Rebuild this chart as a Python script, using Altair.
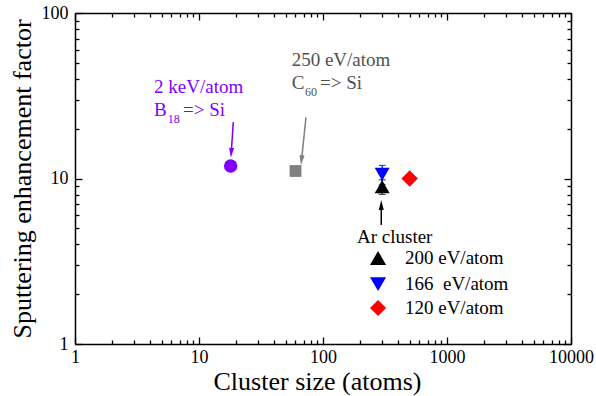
import altair as alt
import pandas as pd

FONT = "Liberation Serif"

# ---------------------------------------------------------------- data
# B18 and C60 cluster impacts on Si
b18_size = [18]
b18_factor = [11.9]
c60_size = [60]
c60_factor = [11.1]

# Ar gas-cluster impacts at three energies per atom
ar_series = ["200 eV/atom", "166\u00a0 eV/atom", "120 eV/atom"]
ar_size = [300, 300, 500]
ar_factor = [8.92, 10.6, 10.0]
ar_err = [0.9, 1.4, 0.5]
ar_shapes = ["triangle-up", "triangle-down", "diamond"]
ar_colors = ["#000000", "#0000ff", "#ff0000"]
ar_marker_area = [225, 225, 270]

# key for the Ar series (positions in data units)
key_title = "Ar cluster"
key_title_x, key_title_y = 188, 4.43
key_symbol_x = 278
key_label_x = 458
key_y = [3.31, 2.30, 1.65]
key_marker_area = [260, 260, 260]

# axis labels and tick positions
x_labels = [1, 10, 100, 1000, 10000]
y_labels = [1, 10, 100]
x_ticks = [1, 2, 3, 4, 5, 6, 7, 8, 9,
           10, 20, 30, 40, 50, 60, 70, 80, 90,
           100, 200, 300, 400, 500, 600, 700, 800, 900,
           1000, 2000, 3000, 4000, 5000, 6000, 7000, 8000, 9000, 10000]
y_ticks = [1, 2, 3, 4, 5, 6, 7, 8, 9,
           10, 20, 30, 40, 50, 60, 70, 80, 90, 100]

# annotation texts (positions in data units)
note_text = ["2 keV/atom", "B", "18", "=> Si",
             "250 eV/atom", "C", "60", "=> Si"]
note_x = [4.34, 4.34, 5.59, 7.43, 55.9, 55.9, 71.6, 94.6]
note_y = [35.9, 25.9, 22.9, 25.9, 52.0, 37.9, 33.3, 37.9]
note_size = [19, 19, 12, 19, 19, 19, 12, 19]
note_color = ["#8000ff"] * 4 + ["#505050"] * 4

# arrows: tail -> head centre
arrow_x = [18.9, 72.9, 295]
arrow_y = [21.9, 23.4, 5.24]
arrow_x2 = [18.2, 67.1, 295]
arrow_y2 = [14.3, 12.9, 6.92]
arrow_angle = [4, 6, 0]
arrow_color = ["#8000ff", "#808080", "#000000"]
arrow_head = ["M-0.5,-1L0.5,-1L0,1Z", "M-0.5,-1L0.5,-1L0,1Z", "M-0.5,1L0.5,1L0,-1Z"]

W, H = 496, 331

xs = alt.Scale(type="log", domain=[1, 10000], nice=False)
ys = alt.Scale(type="log", domain=[1, 100], nice=False)


def X(field, axis=None):
    return alt.X(field, type="quantitative", scale=xs, axis=axis)


def Y(field, axis=None):
    return alt.Y(field, type="quantitative", scale=ys, axis=axis)


# ---------------------------------------------------------------- axes
major_test = "indexof([1, 10, 100, 1000, 10000], datum.value) >= 0"


def tick_axis(orient, values, offset):
    # the domain line of each offset axis forms one side of the frame
    return alt.Axis(
        orient=orient, values=values, offset=offset, labels=False,
        domain=True, domainColor="black", domainWidth=1.5,
        grid=False, title="", tickColor="black", tickWidth=1.3,
        tickSize={"condition": {"test": major_test, "value": 7}, "value": 4},
    )


axis_df = pd.DataFrame({"x": [1, 10000], "y": [1, 100]})

label_axes = alt.Chart(axis_df).mark_point(opacity=0).encode(
    x=X("x", alt.Axis(
        orient="bottom", values=x_labels, format="d", ticks=False,
        domain=False, grid=False, labelFlush=False, labelOverlap=False,
        labelFont=FONT, labelFontSize=18, labelColor="black", labelPadding=4,
        title="Cluster size (atoms)", titleFont=FONT, titleFontSize=26,
        titleFontWeight="normal", titleColor="black",
        titleX=242, titleY=37, titleBaseline="middle")),
    y=Y("y", alt.Axis(
        orient="left", values=y_labels, format="d", ticks=False,
        domain=False, grid=False, labelFlush=False, labelOverlap=False,
        labelFont=FONT, labelFontSize=18, labelColor="black", labelPadding=7,
        title="Sputtering enhancement factor", titleFont=FONT,
        titleFontSize=26, titleFontWeight="normal", titleColor="black",
        titleX=-53, titleY=H / 2, titleBaseline="middle")),
)

# inward ticks along the bottom and left edges
ticks_low = alt.Chart(axis_df).mark_point(opacity=0).encode(
    x=X("x", tick_axis("top", x_ticks, -H)),
    y=Y("y", tick_axis("right", y_ticks, -W)),
)
# inward ticks along the top and right edges
ticks_high = alt.Chart(axis_df).mark_point(opacity=0).encode(
    x=X("x", tick_axis("bottom", x_ticks, -H)),
    y=Y("y", tick_axis("left", y_ticks, -W)),
)

# ---------------------------------------------------------------- marks
ar_df = pd.DataFrame({
    "series": ar_series, "size": ar_size, "factor": ar_factor,
    "lo": [f - e for f, e in zip(ar_factor, ar_err)],
    "hi": [f + e for f, e in zip(ar_factor, ar_err)],
    "hex": ar_colors, "shape": ar_shapes, "area": ar_marker_area,
})

err_line = alt.Chart(ar_df).mark_rule(strokeWidth=1.2).encode(
    x=X("size"), y=Y("lo"), y2="hi",
    color=alt.Color("hex:N", scale=None),
)
err_cap_lo = alt.Chart(ar_df).mark_tick(orient="horizontal", size=7, thickness=1.2).encode(
    x=X("size"), y=Y("lo"), color=alt.Color("hex:N", scale=None),
)
err_cap_hi = alt.Chart(ar_df).mark_tick(orient="horizontal", size=7, thickness=1.2).encode(
    x=X("size"), y=Y("hi"), color=alt.Color("hex:N", scale=None),
)

b18 = alt.Chart(pd.DataFrame({"size": b18_size, "factor": b18_factor})).mark_point(
    filled=True, shape="circle", size=180, color="#8000ff", opacity=1
).encode(x=X("size"), y=Y("factor"))

c60 = alt.Chart(pd.DataFrame({"size": c60_size, "factor": c60_factor})).mark_point(
    filled=True, shape="square", size=140, color="#808080", opacity=1
).encode(x=X("size"), y=Y("factor"))

ar = alt.Chart(ar_df).mark_point(filled=True, opacity=1).encode(
    x=X("size"), y=Y("factor"),
    color=alt.Color("hex:N", scale=None),
    shape=alt.Shape("shape:N", scale=None),
    size=alt.Size("area:Q", scale=None),
)

# key: title, symbols and labels
key_df = pd.DataFrame({
    "label": ar_series, "y": key_y, "hex": ar_colors, "shape": ar_shapes,
    "area": key_marker_area, "sx": [key_symbol_x] * 3, "lx": [key_label_x] * 3,
})
key_symbols = alt.Chart(key_df).mark_point(filled=True, opacity=1).encode(
    x=X("sx"), y=Y("y"),
    color=alt.Color("hex:N", scale=None),
    shape=alt.Shape("shape:N", scale=None),
    size=alt.Size("area:Q", scale=None),
)
key_labels = alt.Chart(key_df).mark_text(
    align="left", baseline="middle", font=FONT, fontSize=19, color="black"
).encode(x=X("lx"), y=Y("y"), text="label:N")
key_head = alt.Chart(pd.DataFrame({"t": [key_title], "x": [key_title_x], "y": [key_title_y]})).mark_text(
    align="left", baseline="middle", font=FONT, fontSize=19, color="black"
).encode(x=X("x"), y=Y("y"), text="t:N")

notes_df = pd.DataFrame({"t": note_text, "x": note_x, "y": note_y,
                         "fs": note_size, "c": note_color})
notes = alt.Chart(notes_df).mark_text(align="left", baseline="middle", font=FONT).encode(
    x=X("x"), y=Y("y"), text="t:N",
    size=alt.Size("fs:Q", scale=None),
    color=alt.Color("c:N", scale=None),
)

arrows_df = pd.DataFrame({"x": arrow_x, "y": arrow_y, "x2": arrow_x2, "y2": arrow_y2,
                          "a": arrow_angle, "c": arrow_color, "h": arrow_head})
shafts = alt.Chart(arrows_df).mark_rule(strokeWidth=1.5).encode(
    x=X("x"), y=Y("y"), x2="x2", y2="y2",
    color=alt.Color("c:N", scale=None),
)
heads = alt.Chart(arrows_df).mark_point(filled=True, opacity=1, size=100).encode(
    x=X("x2"), y=Y("y2"),
    shape=alt.Shape("h:N", scale=None),
    angle=alt.Angle("a:Q", scale=None),
    color=alt.Color("c:N", scale=None),
)

chart = alt.layer(
    label_axes, ticks_low, ticks_high,
    err_line, err_cap_lo, err_cap_hi,
    b18, c60, ar, shafts, heads, notes,
    key_head, key_symbols, key_labels,
).resolve_axis(
    x="independent", y="independent"
).properties(
    width=W, height=H,
    autosize=alt.AutoSizeParams(type="none"),
    padding={"left": 75, "top": 13, "right": 25, "bottom": 52},
).configure_view(
    stroke=None
).configure(background="white")

chart.save("out.html", embed_options={"renderer": "svg", "actions": False})
